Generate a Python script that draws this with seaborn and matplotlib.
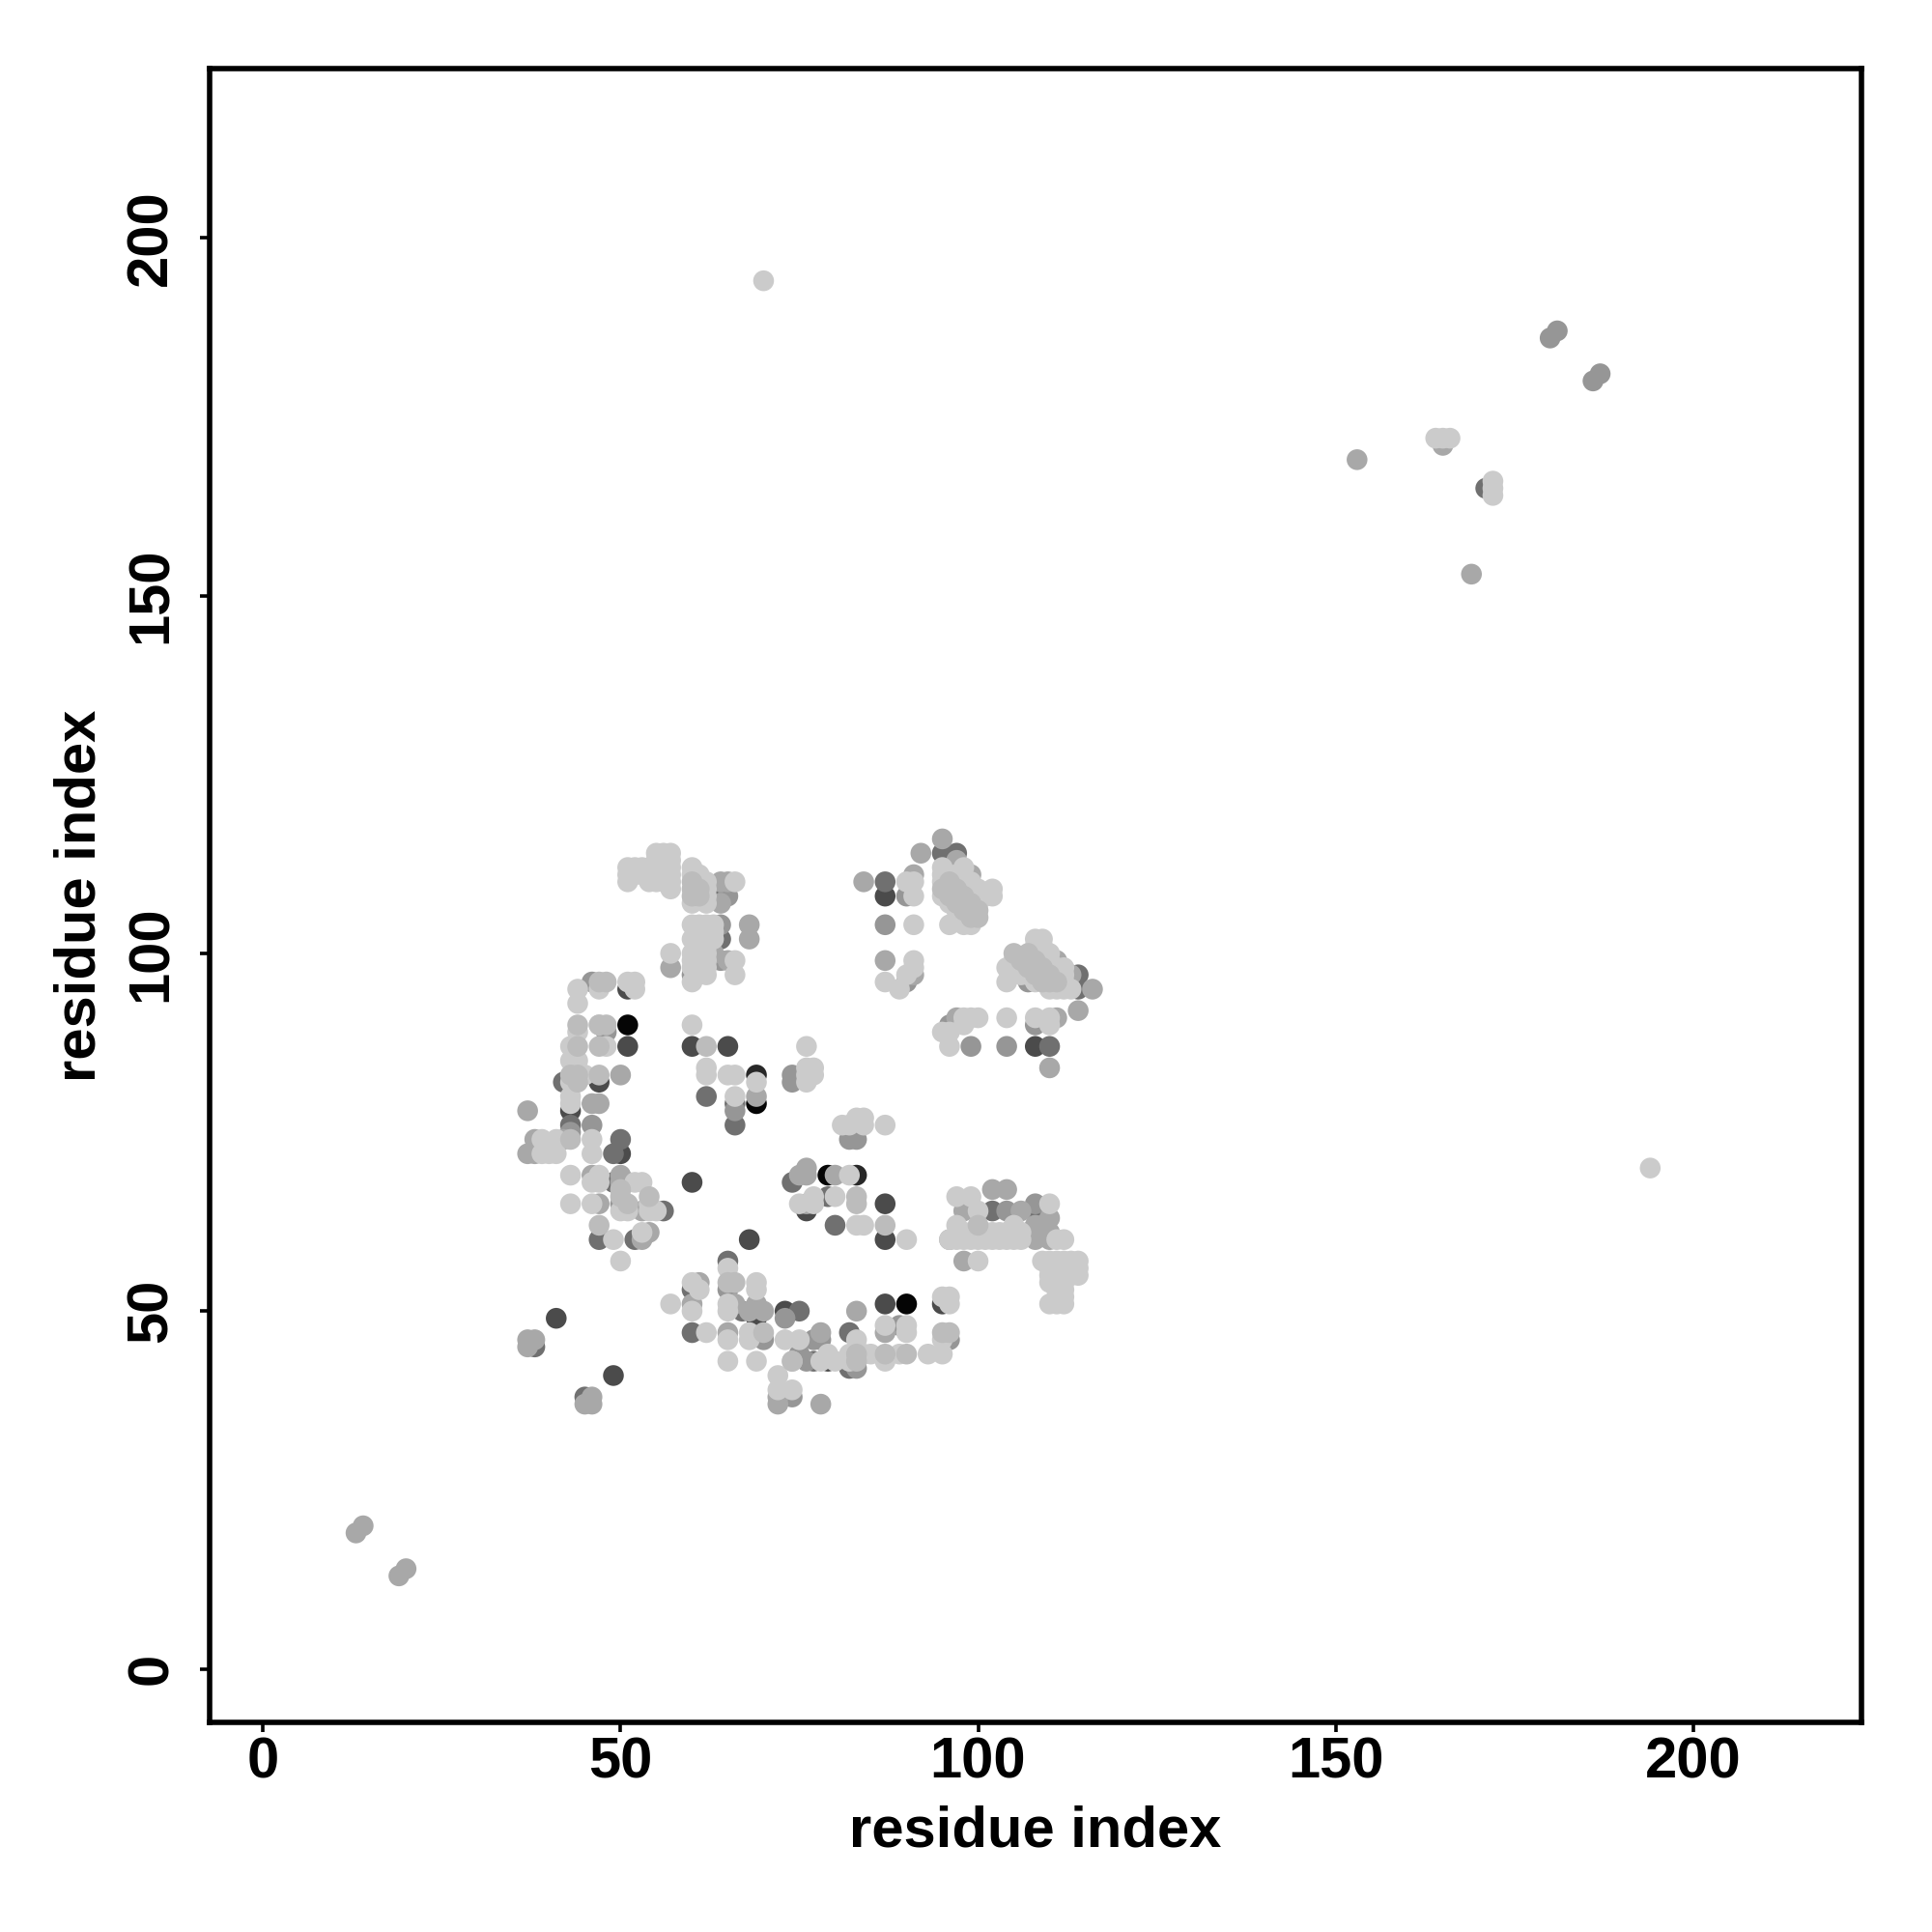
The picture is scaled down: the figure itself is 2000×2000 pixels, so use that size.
import pandas as pd
import matplotlib.pyplot as plt
import seaborn as sns

# contacts by grey level (residue i, residue j), darkest first
black = [(51, 90), (69, 79), (79, 69), (90, 51)]
grey_40 = [(69, 83), (83, 69)]
grey_70 = [(51, 87), (51, 95), (60, 68), (65, 87), (50, 72), (47, 82), (43, 78), (41, 49), (49, 41),
           (68, 60), (73, 50), (87, 51), (95, 51), (79, 43), (76, 64), (87, 65), (87, 108), (108, 87), (60, 87),
           (87, 60), (69, 49)]
grey_105 = [(64, 108), (64, 102), (62, 80), (66, 79), (42, 82), (43, 76), (50, 74), (49, 68), (49, 72),
            (56, 64), (47, 60), (52, 60), (38, 45), (45, 38), (65, 57), (60, 53), (60, 47), (75, 50),
            (67, 50), (74, 68), (79, 66), (80, 62), (82, 47), (77, 43), (82, 42), (102, 64), (108, 64),
            (87, 110), (95, 114), (97, 114), (110, 87), (114, 97), (114, 95), (66, 76), (171, 165)]
grey_150 = [(60, 97), (65, 108), (64, 104), (43, 75), (46, 76), (74, 83), (74, 82), (82, 74), (83, 74),
            (50, 65), (73, 49), (65, 53), (70, 46), (77, 46), (74, 38), (75, 44), (76, 43), (83, 42),
            (96, 46), (89, 48), (104, 64), (108, 65), (87, 104), (90, 96), (90, 108), (96, 90), (104, 87),
            (99, 87), (108, 90), (107, 96), (48, 89), (46, 96), (64, 99), (180, 186), (181, 187),
            (186, 180), (187, 181), (97, 107), (78, 46), (66, 78)]
grey_168 = [(57, 98), (68, 104), (68, 102), (64, 110), (65, 110), (64, 107), (63, 100), (65, 99), (50, 83),
            (46, 79), (47, 79), (37, 78), (69, 80), (38, 74), (42, 74), (37, 72), (38, 72), (46, 69),
            (50, 69), (50, 68), (51, 68), (53, 64), (47, 65), (53, 60), (54, 61), (37, 46), (38, 46),
            (37, 45), (46, 38), (45, 37), (46, 37), (61, 54), (60, 51), (66, 51), (69, 51), (70, 50),
            (68, 50), (65, 47), (76, 70), (76, 69), (75, 69), (76, 65), (80, 69), (72, 38), (72, 37),
            (78, 37), (83, 50), (78, 47), (87, 47), (102, 67), (104, 67), (98, 64), (106, 64), (110, 63),
            (96, 60), (98, 57), (95, 116), (92, 114), (97, 113), (84, 110), (91, 111), (99, 111), (87, 99),
            (91, 97), (111, 99), (113, 97), (116, 95), (114, 92), (97, 91), (111, 91), (110, 84), (153, 169),
            (169, 153), (13, 19), (14, 20), (19, 13), (20, 14), (165, 171), (107, 61), (108, 60), (109, 61),
            (110, 60), (110, 61), (109, 62), (108, 62)]
grey_190 = [(60, 110), (60, 109), (61, 109), (60, 108), (61, 108), (47, 96), (48, 96), (44, 90), (44, 87),
            (47, 87), (48, 90), (43, 83), (44, 83), (44, 82), (47, 83), (43, 74), (50, 67), (50, 66), (51, 65),
            (54, 66), (47, 62), (70, 47), (74, 43), (83, 44), (83, 43), (90, 44), (87, 44), (95, 47), (96, 47),
            (100, 62), (105, 100), (106, 99), (107, 98), (108, 97), (109, 96), (110, 96), (108, 99), (109, 98),
            (110, 97), (111, 96), (96, 110), (97, 109), (98, 108), (99, 107), (100, 106), (96, 108), (97, 107),
            (98, 106), (99, 105), (95, 109), (100, 105), (107, 100), (47, 90), (62, 87), (83, 66), (83, 65),
            (65, 54), (66, 54), (87, 62)]
light = [(51, 110), (51, 111), (51, 112), (52, 111), (52, 112), (53, 112), (53, 111), (54, 110), (54, 111),
         (54, 112), (55, 110), (55, 111), (55, 112), (55, 113), (55, 114), (56, 110), (56, 111), (56, 112),
         (56, 113), (56, 114), (57, 109), (57, 110), (57, 111), (57, 112), (57, 113), (57, 114),
         (60, 112), (60, 111), (60, 107), (61, 111), (61, 110), (62, 110), (62, 109), (62, 108), (62, 107),
         (66, 110), (60, 104), (60, 102), (60, 100), (60, 99), (60, 98), (60, 96), (61, 104), (61, 102),
         (61, 100), (61, 99), (61, 98), (62, 104), (62, 103), (62, 102), (62, 101), (62, 100), (62, 99),
         (62, 98), (62, 97), (63, 104), (63, 103), (63, 102), (66, 99), (66, 97), (57, 100), (60, 90),
         (44, 95), (44, 93), (47, 95), (51, 96), (52, 96), (52, 95), (44, 89), (43, 87), (43, 85), (44, 85),
         (47, 90), (48, 87), (76, 87), (62, 84), (62, 83), (65, 83), (66, 83), (69, 82), (66, 80),
         (76, 84), (77, 84), (76, 83), (77, 83), (76, 82), (45, 83), (43, 80), (43, 79), (43, 82),
         (46, 74), (46, 72), (39, 74), (41, 74), (39, 72), (40, 72), (41, 72), (43, 69), (47, 69),
         (46, 68), (47, 68), (52, 68), (53, 68), (43, 65), (46, 65), (50, 64), (51, 64), (54, 64), (54, 65),
         (55, 64), (49, 60), (53, 61), (50, 57), (65, 56), (60, 54), (61, 53), (69, 54), (69, 53), (57, 51),
         (60, 50), (65, 51), (65, 50), (62, 47), (65, 46), (68, 47), (68, 46), (73, 46), (75, 46), (65, 43),
         (69, 43), (74, 43), (72, 41), (72, 39), (74, 39), (75, 65), (77, 65), (77, 66), (80, 66), (82, 69),
         (78, 43), (79, 44), (80, 43), (82, 44), (82, 43), (81, 76), (82, 76), (83, 77), (84, 77), (84, 76),
         (87, 76), (83, 62), (84, 62), (90, 60), (97, 66), (99, 66), (100, 64), (97, 62), (105, 62),
         (96, 60), (97, 60), (98, 60), (99, 60), (100, 60), (101, 60), (102, 60), (103, 60), (104, 60),
         (105, 60), (106, 60), (111, 60), (112, 60), (98, 61), (99, 61), (100, 61), (101, 61), (102, 61),
         (103, 61), (104, 61), (105, 61), (106, 61), (110, 65), (100, 57), (109, 57), (110, 57), (111, 57),
         (112, 57), (113, 57), (114, 57), (110, 56), (111, 56), (112, 56), (113, 56), (114, 56), (110, 55),
         (111, 55), (112, 55), (113, 55), (114, 55), (110, 54), (111, 54), (112, 54), (111, 53), (112, 53),
         (111, 52), (112, 52), (110, 51), (111, 51), (112, 51), (95, 52), (96, 52), (96, 51), (87, 48),
         (90, 48), (90, 47), (95, 46), (83, 46), (85, 44), (84, 44), (87, 43), (89, 44), (93, 44), (95, 44),
         (96, 104), (98, 104), (99, 104), (90, 110), (91, 110), (91, 108), (91, 104), (91, 99), (91, 98),
         (90, 97), (87, 96), (89, 95), (95, 112), (95, 111), (95, 110), (96, 111), (97, 111), (98, 112),
         (98, 110), (99, 110), (99, 109), (100, 109), (102, 109), (102, 108), (101, 108), (100, 108), (100, 107),
         (95, 108), (96, 107), (97, 106), (98, 105), (108, 102), (109, 102), (104, 98), (104, 96), (105, 99),
         (108, 101), (109, 101), (109, 100), (110, 100), (110, 99), (111, 98), (112, 98), (112, 97), (112, 96),
         (113, 95), (112, 95), (111, 95), (110, 95), (106, 97), (106, 98), (107, 97), (108, 96), (95, 89),
         (96, 89), (96, 87), (98, 90), (98, 91), (99, 91), (100, 91), (104, 91), (108, 91), (110, 90),
         (110, 91), (70, 194), (194, 70), (164, 172), (165, 172), (166, 172), (172, 166), (172, 165), (172, 164)]

# the pale contacts go down before the 190 ones, so the diagonal bands stay visible
shades = [(black, 5), (grey_40, 40), (grey_70, 75), (grey_105, 112), (grey_150, 150), (grey_168, 168),
          (light, 203), (grey_190, 188)]

tick_values = [0, 50, 100, 150, 200]

rows = []
for group, level in shades:
    for i, j in group:
        rows.append({"i": i, "j": j, "level": level})
df = pd.DataFrame(rows)
palette = {level: (level / 255, level / 255, level / 255) for _, level in shades}

sns.set_style("white")
plt.rcParams["font.family"] = ["Liberation Sans", "DejaVu Sans"]
plt.rcParams["font.weight"] = "bold"
plt.rcParams["text.color"] = "black"
plt.rcParams["axes.labelcolor"] = "black"
plt.rcParams["xtick.labelcolor"] = "black"
plt.rcParams["ytick.labelcolor"] = "black"

fig = plt.figure(figsize=(10, 10), dpi=200)
ax = fig.add_axes([0.1084, 0.1084, 0.8553, 0.8559])
sns.scatterplot(data=df, x="i", y="j", hue="level", palette=palette, s=60, linewidth=0, legend=False, ax=ax)

ax.set_xlim(-7.5, 223.6)
ax.set_ylim(-7.5, 223.6)
ax.set_xticks(tick_values)
ax.set_yticks(tick_values)
ax.tick_params(axis="both", length=3.5, width=1.3, color="black", bottom=True, left=True, labelsize=21.5)
ax.tick_params(axis="x", pad=1.5)
ax.tick_params(axis="y", pad=8)
plt.setp(ax.get_yticklabels(), rotation=90, va="center")
ax.set_xlabel("residue index", fontsize=21.5, fontweight="bold", labelpad=6)
ax.set_ylabel("residue index", fontsize=21.5, fontweight="bold", labelpad=7)
for spine in ax.spines.values():
    spine.set_linewidth(2)
    spine.set_color("black")

fig.savefig("out.png", dpi=200)
